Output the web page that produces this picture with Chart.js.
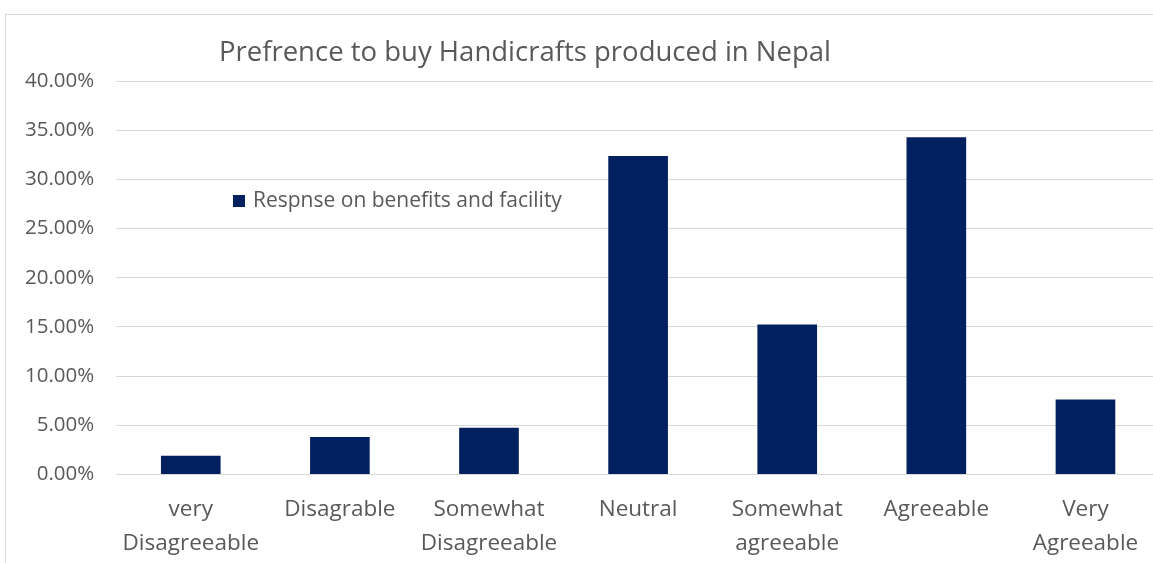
<!DOCTYPE html>
<html>
<head>
<meta charset="utf-8">
<script src="https://cdn.jsdelivr.net/npm/chart.js@4.4.1/dist/chart.umd.min.js"></script>
<style>
    html, body { margin: 0; padding: 0; background: #ffffff; overflow: hidden; }
    .frame {
        position: absolute; left: 5px; top: 14px; width: 1300px; height: 700px;
        border-left: 1px solid #d9d9d9; border-top: 1px solid #d9d9d9;
    }
    .chart-box { position: absolute; left: 0; top: 0; width: 1175px; height: 570px; }
</style>
</head>
<body>
<div class="frame"></div>
<div class="chart-box"><canvas id="prefChart"></canvas></div>
<script>
// Survey answers, share of respondents (%)
const categories = [
    ['very', 'Disagreeable'],
    'Disagrable',
    ['Somewhat', 'Disagreeable'],
    'Neutral',
    ['Somewhat', 'agreeable'],
    'Agreeable',
    ['Very', 'Agreeable']
];
const responseValues = [1.90, 3.81, 4.76, 32.38, 15.24, 34.29, 7.62];
const seriesLabel = 'Respnse on benefits and facility';
const chartTitle = 'Prefrence to buy Handicrafts produced in Nepal';

const textColor = '#595959';
const barColor = '#002060';
const fontFamily = '"Open Sans", "Liberation Sans", sans-serif';

// Title and legend sit at fixed spots over the plot, drawn by hand
const overlayPlugin = {
    id: 'overlay',
    afterDraw(chart) {
        const ctx = chart.ctx;
        ctx.save();
        ctx.fillStyle = textColor;
        ctx.font = '27.5px ' + fontFamily;
        ctx.textAlign = 'center';
        ctx.textBaseline = 'middle';
        ctx.fillText(chartTitle, 525, 53);

        ctx.fillStyle = chart.data.datasets[0].backgroundColor;
        ctx.fillRect(233, 195, 12, 12);
        ctx.fillStyle = textColor;
        ctx.font = '21px ' + fontFamily;
        ctx.textAlign = 'left';
        ctx.fillText(chart.data.datasets[0].label, 253, 201);
        ctx.restore();
    }
};

new Chart(document.getElementById('prefChart'), {
    type: 'bar',
    data: {
        labels: categories,
        datasets: [{
            label: seriesLabel,
            data: responseValues,
            backgroundColor: barColor,
            borderWidth: 0,
            categoryPercentage: 1.0,
            barPercentage: 0.4
        }]
    },
    options: {
        responsive: true,
        maintainAspectRatio: false,
        animation: false,
        layout: { padding: { top: 81, left: 3, right: 15, bottom: 0 } },
        plugins: {
            legend: { display: false },
            title: { display: false },
            tooltip: { enabled: false }
        },
        scales: {
            x: {
                grid: { display: false },
                border: { display: false },
                ticks: {
                    color: textColor,
                    font: { family: fontFamily, size: 22.5, lineHeight: 1.5 },
                    padding: 10,
                    maxRotation: 0,
                    autoSkip: false
                }
            },
            y: {
                min: 0,
                max: 40,
                grid: { color: '#d9d9d9', lineWidth: 1, drawTicks: false },
                border: { display: false },
                ticks: {
                    stepSize: 5,
                    color: textColor,
                    font: { family: fontFamily, size: 20.5 },
                    padding: 22,
                    callback: value => value.toFixed(2) + '%'
                }
            }
        }
    },
    plugins: [overlayPlugin]
});
</script>
</body>
</html>
